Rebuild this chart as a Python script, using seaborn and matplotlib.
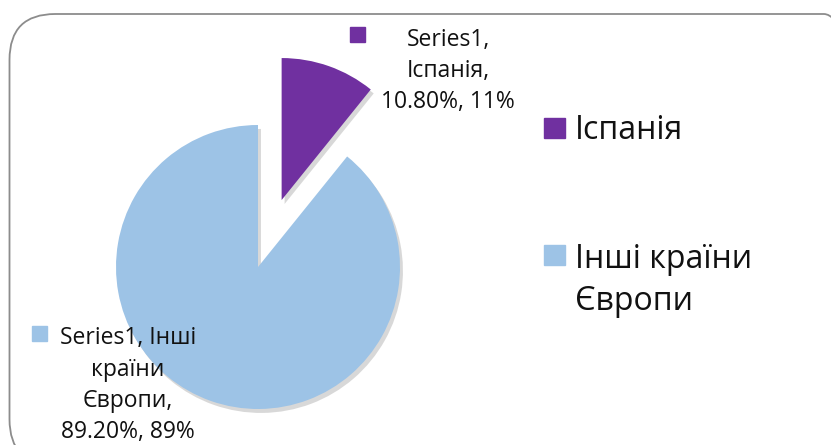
# Pie chart: share of Spain vs other European countries
import matplotlib.pyplot as plt
import seaborn as sns
from matplotlib.patches import FancyBboxPatch, Rectangle

countries = ['Іспанія', 'Інші країни\nЄвропи']
shares = [10.80, 89.20]
series_name = 'Series1'

sns.set_style('white')
palette = sns.color_palette(['#7030A0', '#9DC3E6'])
plt.rcParams['font.family'] = ['Open Sans', 'DejaVu Sans']

W, H = 831, 445
fig = plt.figure(figsize=(W / 100, H / 100), dpi=100)


def pix(x, y):
    # figure pixel coords (from top-left) -> figure fraction
    return x / W, 1 - y / H


# rounded frame around the chart
frame = FancyBboxPatch((9.5 / W, -20 / H), 860 / W, (H - 14 + 20) / H,
                       boxstyle='round,pad=0,rounding_size=0.055',
                       transform=fig.transFigure, fill=False,
                       edgecolor='#8c8c8c', lw=1.3, mutation_aspect=W / H)
fig.add_artist(frame)

ax = fig.add_axes([0, 0, 1, 1])
wedges, _ = ax.pie(shares, colors=palette, startangle=90, counterclock=False,
                   explode=[0.5, 0], radius=1,
                   shadow={'ox': 0.015, 'oy': -0.02, 'facecolor': '#666666',
                           'alpha': 0.25, 'edgecolor': 'none'},
                   wedgeprops={'linewidth': 0})
r = 142
ax.set_xlim(-258 / r, (W - 258) / r)
ax.set_ylim(-(H - 267) / r, 267 / r)
ax.set_aspect('equal')
ax.axis('off')

# data labels (va='baseline' pins the last line)
lab1 = f'{series_name},\n{countries[0]},\n{shares[0]:.2f}%, {round(shares[0])}%'
lab2 = f'{series_name}, Інші\nкраїни\nЄвропи,\n{shares[1]:.2f}%, {round(shares[1])}%'
fig.text(*pix(448, 108), lab1, ha='center', va='baseline', multialignment='center',
         fontsize=16.5, linespacing=1.4, color='#111111')
fig.text(*pix(128, 438), lab2, ha='center', va='baseline', multialignment='center',
         fontsize=16.5, linespacing=1.4, color='#111111')
fig.add_artist(Rectangle(pix(350, 42), 15 / W, 15 / H, transform=fig.transFigure,
                         color=palette[0]))
fig.add_artist(Rectangle(pix(32, 341), 15 / W, 15 / H, transform=fig.transFigure,
                         color=palette[1]))

# legend
for name, color, sq_y, base_y in zip(countries, palette, [138, 265], [139, 310]):
    fig.add_artist(Rectangle(pix(544, sq_y), 21 / W, 20 / H,
                             transform=fig.transFigure, color=color))
    fig.text(*pix(575, base_y), name, ha='left', va='baseline',
             fontsize=23, linespacing=1.35, color='#111111')

fig.savefig('out.png', dpi=100)
